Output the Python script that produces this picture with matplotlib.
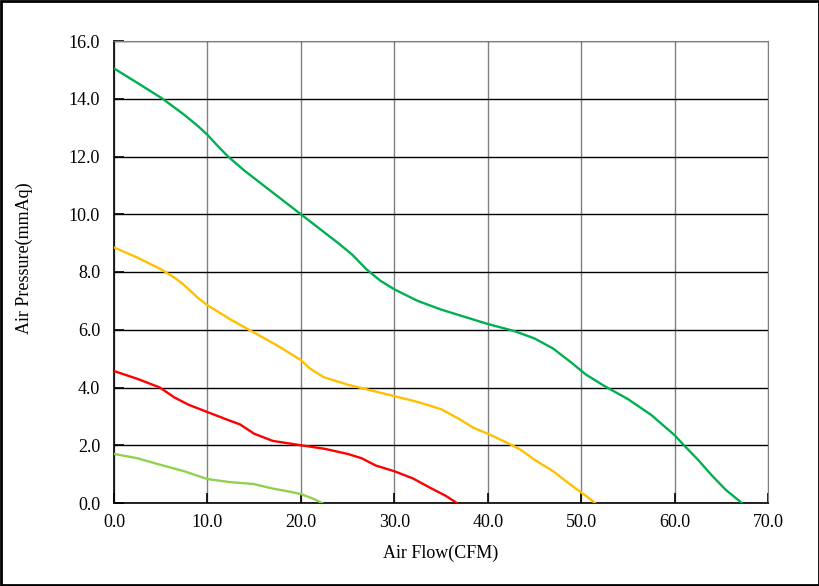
import matplotlib.pyplot as plt
from matplotlib.patches import Rectangle
from matplotlib.ticker import FormatStrFormatter, MultipleLocator

plt.rcParams['font.family'] = ['Liberation Serif', 'DejaVu Serif']

# curves (flow CFM, pressure mmAq)
flow_a = [0, 2.5, 5.2, 7.5, 9, 10, 11, 12.2, 14, 16, 18, 20, 22, 24, 25.5, 27, 28.5, 30, 32.5, 35, 37.5, 40, 42.9, 45, 47, 49, 50.5, 52.5, 55, 57.5, 60, 61, 62.5, 64, 65.5, 67.2]
pres_a = [15.05, 14.55, 14.0, 13.45, 13.05, 12.75, 12.4, 12.0, 11.5, 11.0, 10.5, 10.0, 9.5, 9.0, 8.6, 8.1, 7.7, 7.4, 7.0, 6.7, 6.45, 6.2, 5.95, 5.7, 5.35, 4.85, 4.45, 4.05, 3.6, 3.05, 2.35, 2.0, 1.5, 0.95, 0.45, 0.0]

flow_b = [0, 2.5, 5, 6.5, 7.5, 9, 10, 12.5, 15, 17.5, 20, 21, 22.5, 25, 27.5, 30, 32.5, 35, 37, 38.5, 40, 42, 43.5, 45, 47, 49, 50.5, 51.5]
pres_b = [8.85, 8.5, 8.1, 7.8, 7.55, 7.1, 6.85, 6.35, 5.9, 5.45, 4.95, 4.65, 4.35, 4.1, 3.9, 3.7, 3.5, 3.25, 2.9, 2.6, 2.4, 2.1, 1.85, 1.5, 1.1, 0.6, 0.25, 0.0]

flow_c = [0, 2.5, 4.9, 6.5, 8, 10, 12, 13.5, 15, 17, 20, 22.5, 25, 26.5, 28, 30, 32, 34, 35.5, 36.7]
pres_c = [4.57, 4.3, 4.0, 3.65, 3.4, 3.15, 2.9, 2.72, 2.4, 2.15, 2.0, 1.88, 1.7, 1.55, 1.3, 1.1, 0.85, 0.5, 0.25, 0.0]

flow_d = [0, 2.5, 5, 7.5, 10, 12.5, 14.9, 17, 19, 20, 21.3, 22.3]
pres_d = [1.7, 1.55, 1.32, 1.1, 0.83, 0.72, 0.66, 0.5, 0.38, 0.31, 0.15, 0.0]

fig = plt.figure(figsize=(8.2, 5.86), dpi=100)
ax = fig.add_axes([114/820, 83/586, 654/820, 462/586])

line_kw = dict(lw=1.7, zorder=3, solid_joinstyle='round', solid_capstyle='round')
ax.plot(flow_a, pres_a, color='#00B050', **line_kw)
ax.plot(flow_b, pres_b, color='#FFC000', **line_kw)
ax.plot(flow_c, pres_c, color='#FF0000', **line_kw)
ax.plot(flow_d, pres_d, color='#92D050', **line_kw)

ax.set_xlim(0, 70)
ax.set_ylim(0, 16)
ax.xaxis.set_major_locator(MultipleLocator(10))
ax.yaxis.set_major_locator(MultipleLocator(2))
ax.xaxis.set_major_formatter(FormatStrFormatter('%.1f'))
ax.yaxis.set_major_formatter(FormatStrFormatter('%.1f'))

ax.grid(axis='y', color='black', lw=1.0, zorder=1)
ax.grid(axis='x', color='#808080', lw=1.0, zorder=1)
ax.set_axisbelow(True)

for s in ['top', 'right']:
    ax.spines[s].set_color('#808080')
for s in ['left', 'bottom']:
    ax.spines[s].set_color('black')
    ax.spines[s].set_linewidth(1.2)

ax.tick_params(direction='in', length=7, width=1.2, colors='black',
               labelsize=13, pad=8)
ax.tick_params(axis='y', pad=10)

ax.set_xlabel('Air Flow(CFM)', fontsize=13, labelpad=10)
ax.set_ylabel('Air Pressure(mmAq)', fontsize=13)
ax.yaxis.set_label_coords(-0.124, 0.53)

fig.patches.append(Rectangle((0.0015, 0.002), 0.997, 0.996, transform=fig.transFigure,
                             fill=False, edgecolor='black', lw=2))

fig.savefig('out.png', dpi=100)
